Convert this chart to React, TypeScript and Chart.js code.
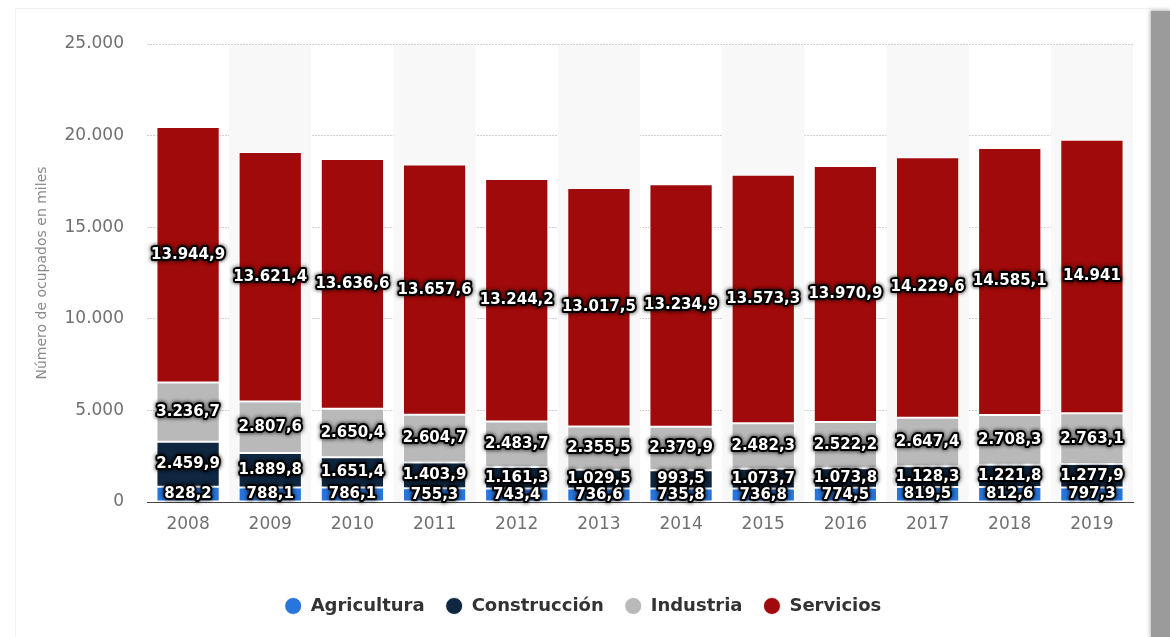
import React, { useEffect, useRef } from "react";
import { Chart, registerables } from "chart.js";

Chart.register(...registerables);

const years = ["2008", "2009", "2010", "2011", "2012", "2013", "2014", "2015", "2016", "2017", "2018", "2019"];
const agricultura = [828.2, 788.1, 786.1, 755.3, 743.4, 736.6, 735.8, 736.8, 774.5, 819.5, 812.6, 797.3];
const construccion = [2459.9, 1889.8, 1651.4, 1403.9, 1161.3, 1029.5, 993.5, 1073.7, 1073.8, 1128.3, 1221.8, 1277.9];
const industria = [3236.7, 2807.6, 2650.4, 2604.7, 2483.7, 2355.5, 2379.9, 2482.3, 2522.2, 2647.4, 2708.3, 2763.1];
const servicios = [13944.9, 13621.4, 13636.6, 13657.6, 13244.2, 13017.5, 13234.9, 13573.3, 13970.9, 14229.6, 14585.1, 14941];
const seriesNames = ["Agricultura", "Construcción", "Industria", "Servicios"];
const seriesColors = ["#2876dd", "#0f2741", "#b9b9b9", "#a10a0a"];
const yTickValues = [0, 5000, 10000, 15000, 20000, 25000];
const yTitle = "Número de ocupados en miles";

const fmt = new Intl.NumberFormat("de-DE", { maximumFractionDigits: 1 });

const bandsPlugin = {
  id: "bands",
  beforeDatasetsDraw(chart: any) {
    const { ctx, chartArea, scales } = chart;
    const x = scales.x;
    const w = (chartArea.right - chartArea.left) / years.length;
    ctx.save();
    ctx.fillStyle = "#f8f8f8";
    years.forEach((_, i) => {
      if (i % 2 === 1) {
        const cx = x.getPixelForValue(i);
        ctx.fillRect(cx - w / 2, chartArea.top + 1, w, chartArea.bottom - chartArea.top - 1);
      }
    });
    ctx.restore();
  },
};

const labelsPlugin = {
  id: "valueLabels",
  afterDatasetsDraw(chart: any) {
    const { ctx } = chart;
    ctx.save();
    ctx.font = "bold 15px 'DejaVu Sans'";
    ctx.textAlign = "center";
    ctx.textBaseline = "middle";
    ctx.lineJoin = "round";
    chart.data.datasets.forEach((ds: any, di: number) => {
      const meta = chart.getDatasetMeta(di);
      meta.data.forEach((bar: any, i: number) => {
        const v = ds.data[i];
        const text = fmt.format(v);
        const cx = bar.x;
        const cy = (bar.y + bar.base) / 2;
        ctx.shadowColor = "rgba(0,0,0,0.9)";
        ctx.shadowBlur = 4;
        ctx.strokeStyle = "#000";
        ctx.lineWidth = 4;
        ctx.strokeText(text, cx, cy);
        ctx.shadowBlur = 0;
        ctx.fillStyle = "#fff";
        ctx.fillText(text, cx, cy);
      });
    });
    ctx.restore();
  },
};

export default function App() {
  const canvasRef = useRef<HTMLCanvasElement | null>(null);

  useEffect(() => {
    if (!canvasRef.current) return;
    Chart.defaults.font.family = "'DejaVu Sans'";
    const seriesData = [agricultura, construccion, industria, servicios];
    const chart = new Chart(canvasRef.current, {
      type: "bar",
      data: {
        labels: years,
        datasets: seriesData.map((d, i) => ({
          label: seriesNames[i],
          data: d,
          backgroundColor: seriesColors[i],
          borderColor: "rgba(255,255,255,0.85)",
          borderWidth: 1,
          borderSkipped: false,
          barPercentage: 0.77,
          categoryPercentage: 1,
        })),
      },
      options: {
        responsive: false,
        animation: false,
        layout: { padding: { left: 33, right: 37, top: 44, bottom: 12 } },
        plugins: {
          tooltip: { enabled: false },
          legend: {
            position: "bottom",
            labels: {
              usePointStyle: true,
              pointStyle: "circle",
              boxHeight: 12,
              boxWidth: 17,
              pointStyleWidth: 17,
              padding: 21,
              color: "#333",
              font: { size: 18, weight: "bold", family: "'DejaVu Sans'" },
            },
          },
        },
        scales: {
          x: {
            stacked: true,
            grid: { display: false, drawTicks: false },
            border: { display: true, color: "#444", width: 1 },
            ticks: { color: "#707070", font: { size: 17 }, padding: 12 },
            afterFit: (scale: any) => {
              scale.height = 74;
            },
          },
          y: {
            stacked: true,
            min: 0,
            max: 25000,
            afterBuildTicks: (scale: any) => {
              scale.ticks = yTickValues.map((v) => ({ value: v }));
            },
            grid: { color: "#d0d0d0", drawTicks: false, lineWidth: 1 },
            border: { display: false, dash: [2, 1] },
            ticks: {
              color: "#707070",
              font: { size: 17 },
              padding: 23,
              callback: (v: any) => fmt.format(Number(v)),
            },
            title: {
              display: true,
              text: yTitle,
              color: "#8a8a8a",
              font: { size: 14 },
              padding: { top: 1, bottom: 0 },
            },
            afterFit: (scale: any) => {
              scale.width = 114;
            },
          },
        },
      },
      plugins: [bandsPlugin, labelsPlugin],
    } as any);
    return () => chart.destroy();
  }, []);

  return (
    <div style={{ position: "absolute", left: 0, top: 0, width: 1170, height: 637, background: "#fff", overflow: "hidden" }}>
      <div style={{ position: "absolute", left: 15, top: 8, width: 1135, height: 629, borderTop: "1px solid #f2f2f2", borderLeft: "1px solid #f2f2f2" }} />
      <canvas ref={canvasRef} width={1170} height={637} style={{ position: "absolute", left: 0, top: 0 }} />
      <div style={{ position: "absolute", left: 1151, top: 11, width: 19, height: 626, background: "#9b9b9b", boxShadow: "0 0 4px 1px rgba(150,150,150,0.7)" }} />
    </div>
  );
}
